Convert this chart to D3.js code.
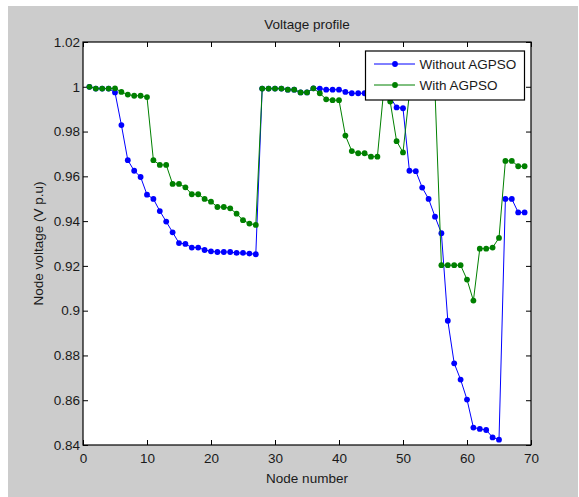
<!DOCTYPE html>
<html>
<head>
<meta charset="utf-8">
<script src="https://cdn.jsdelivr.net/npm/d3@7"></script>
<style>
  html, body { margin: 0; padding: 0; background: #ffffff; }
  svg { display: block; }
  text { font-family: "Liberation Sans", Arial, sans-serif; fill: #1a1a1a; }
</style>
</head>
<body>
<svg id="chart" width="579" height="497"></svg>
<script>
const nodes = [1,2,3,4,5,6,7,8,9,10,11,12,13,14,15,16,17,18,19,20,21,22,23,24,25,26,27,28,29,30,
  31,32,33,34,35,36,37,38,39,40,41,42,43,44,45,46,47,48,49,50,51,52,53,54,55,56,57,58,59,60,
  61,62,63,64,65,66,67,68,69];

const withoutAGPSO = [1.0,0.9992,0.9992,0.9992,0.9975,0.9829,0.9672,0.9625,0.9597,0.9518,
  0.9499,0.9445,0.9398,0.935,0.9302,0.9298,0.9282,0.9282,0.9271,0.9265,
  0.9262,0.9262,0.9262,0.9258,0.9258,0.9255,0.9252,0.9992,0.9992,0.9992,
  0.9992,0.9987,0.9987,0.9975,0.9975,0.9993,0.9992,0.9987,0.9987,0.9987,
  0.9977,0.9971,0.9971,0.9971,0.997,0.9968,0.9966,0.9953,0.9908,0.9904,
  0.9625,0.9623,0.955,0.9499,0.942,0.9346,0.8955,0.8765,0.8692,0.8603,
  0.8478,0.8472,0.8467,0.8434,0.8424,0.9499,0.9499,0.9439,0.9439];

const withAGPSO = [1.0,0.9992,0.9992,0.9992,0.9993,0.9977,0.9965,0.996,0.996,0.9954,
  0.9672,0.9651,0.9651,0.9566,0.9566,0.9551,0.952,0.952,0.9499,0.9487,
  0.9463,0.9463,0.9457,0.9433,0.9404,0.9389,0.9383,0.9992,0.9992,0.9992,
  0.9992,0.9987,0.9987,0.9975,0.9975,0.9993,0.9971,0.9944,0.994,0.994,
  0.9782,0.9713,0.9703,0.9703,0.9688,0.9688,0.9988,0.9934,0.9757,0.9707,
  0.997,0.999,0.999,0.999,0.998,0.9203,0.9203,0.9203,0.9203,0.9139,
  0.9045,0.9277,0.9277,0.9282,0.9325,0.9669,0.9669,0.9645,0.9645];

const seriesNames = ["Without AGPSO", "With AGPSO"];
const seriesColors = ["#0000ff", "#008000"];
const xTicks = [0,10,20,30,40,50,60,70];
const yTicks = [0.84,0.86,0.88,0.9,0.92,0.94,0.96,0.98,1.0,1.02];
const titleText = "Voltage profile";
const xLabel = "Node number";
const yLabel = "Node voltage (V p.u)";

const svg = d3.select("#chart");
const W = 579, H = 497;
const plot = {left: 83, right: 531, top: 42, bottom: 445};
const fontSize = "13.5px";

// figure background
svg.append("rect").attr("x", 8).attr("y", 6).attr("width", 570).attr("height", 491).attr("fill", "#cccccc");

const x = d3.scaleLinear().domain([0, 70]).range([plot.left, plot.right]);
const y = d3.scaleLinear().domain([0.84, 1.02]).range([plot.bottom, plot.top]);

// axes area
svg.append("rect").attr("x", plot.left).attr("y", plot.top)
  .attr("width", plot.right - plot.left).attr("height", plot.bottom - plot.top)
  .attr("fill", "#ffffff");

const fmtY = d => String(parseFloat(d.toFixed(2)));

function styleAxis(g, showLabels) {
  g.select(".domain").remove();
  g.selectAll(".tick line").attr("stroke", "#000").attr("stroke-width", 1);
  if (!showLabels) g.selectAll(".tick text").remove();
  else g.selectAll(".tick text").attr("fill", "#1a1a1a").style("font-size", fontSize)
        .style("font-family", '"Liberation Sans", Arial, sans-serif');
}

svg.append("g").attr("transform", `translate(0,${plot.bottom})`)
  .call(d3.axisBottom(x).tickValues(xTicks).tickSizeInner(-5).tickSizeOuter(0).tickPadding(8).tickFormat(d3.format("d")))
  .call(g => styleAxis(g, true));
svg.append("g").attr("transform", `translate(0,${plot.top})`)
  .call(d3.axisTop(x).tickValues(xTicks).tickSizeInner(-5).tickSizeOuter(0))
  .call(g => styleAxis(g, false));
svg.append("g").attr("transform", `translate(${plot.left},0)`)
  .call(d3.axisLeft(y).tickValues(yTicks).tickSizeInner(-5).tickSizeOuter(0).tickPadding(3).tickFormat(fmtY))
  .call(g => styleAxis(g, true));
svg.append("g").attr("transform", `translate(${plot.right},0)`)
  .call(d3.axisRight(y).tickValues(yTicks).tickSizeInner(-5).tickSizeOuter(0))
  .call(g => styleAxis(g, false));

// frame
svg.append("rect").attr("x", plot.left).attr("y", plot.top)
  .attr("width", plot.right - plot.left).attr("height", plot.bottom - plot.top)
  .attr("fill", "none").attr("stroke", "#000").attr("stroke-width", 1.2);

// series
const allSeries = [withoutAGPSO, withAGPSO];
const line = d3.line().x((d, i) => x(nodes[i])).y(d => y(d));
allSeries.forEach((vals, si) => {
  const g = svg.append("g");
  g.append("path").datum(vals).attr("d", line)
    .attr("fill", "none").attr("stroke", seriesColors[si]).attr("stroke-width", 1);
  g.selectAll("circle").data(vals).enter().append("circle")
    .attr("cx", (d, i) => x(nodes[i])).attr("cy", d => y(d)).attr("r", 2.9)
    .attr("fill", seriesColors[si]);
});

// title and labels
svg.append("text").attr("x", (plot.left + plot.right) / 2).attr("y", 29)
  .attr("text-anchor", "middle").style("font-size", fontSize).text(titleText);
svg.append("text").attr("x", (plot.left + plot.right) / 2).attr("y", 483)
  .attr("text-anchor", "middle").style("font-size", fontSize).text(xLabel);
svg.append("text").attr("transform", `translate(43,${(plot.top + plot.bottom) / 2}) rotate(-90)`)
  .attr("text-anchor", "middle").style("font-size", fontSize).text(yLabel);

// legend
const lg = svg.append("g");
lg.append("rect").attr("x", 365.5).attr("y", 51).attr("width", 159).attr("height", 49)
  .attr("fill", "#ffffff").attr("stroke", "#000").attr("stroke-width", 1.2);
seriesNames.forEach((name, i) => {
  const ly = 64 + i * 21;
  lg.append("line").attr("x1", 374).attr("x2", 415).attr("y1", ly).attr("y2", ly)
    .attr("stroke", seriesColors[i]).attr("stroke-width", 1);
  lg.append("circle").attr("cx", 395).attr("cy", ly).attr("r", 2.9).attr("fill", seriesColors[i]);
  lg.append("text").attr("x", 419.5).attr("y", ly + 5).style("font-size", fontSize).text(name);
});
</script>
</body>
</html>
